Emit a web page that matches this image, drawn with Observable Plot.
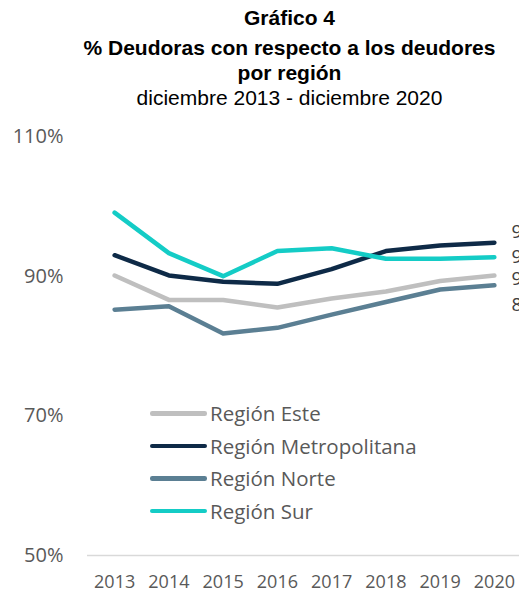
<!DOCTYPE html>
<html>
<head>
<meta charset="utf-8">
<script src="https://cdn.jsdelivr.net/npm/d3@7"></script>
<script src="https://cdn.jsdelivr.net/npm/@observablehq/plot@0.6"></script>
<style>
  html, body { margin: 0; padding: 0; background: #fff; overflow: hidden; }
  #wrap { position: relative; width: 519px; height: 592px; overflow: hidden; }
  #titles { height: 110px; padding-top: 5px; box-sizing: border-box; }
  .t { font-family: "Liberation Sans", Arial, sans-serif; font-size: 21px; line-height: 25px;
       text-align: center; padding-left: 60px; color: #000; white-space: nowrap; }
  .b { font-weight: bold; }
  #legend { position: absolute; left: 150px; top: 397px; font-family: "Open Sans", sans-serif;
            font-size: 20.5px; color: #595959; }
  .row { display: flex; align-items: center; height: 32.6px; }
  .sw { width: 57px; height: 4.5px; border-radius: 2.25px; margin-right: 3px; }
  #chart svg { display: block; }
</style>
</head>
<body>
<div id="wrap">
  <div id="titles">
    <div class="t b">Gráfico 4</div>
    <div class="t b" style="margin-top:5px">% Deudoras con respecto a los deudores</div>
    <div class="t b">por región</div>
    <div class="t">diciembre 2013 - diciembre 2020</div>
  </div>
  <div id="chart"></div>
  <div id="legend"></div>
</div>
<script>
const years = [2013, 2014, 2015, 2016, 2017, 2018, 2019, 2020];
const este  = [90.1, 86.6, 86.6, 85.5, 86.8, 87.8, 89.3, 90.1];
const metro = [93.0, 90.1, 89.2, 88.9, 91.0, 93.6, 94.4, 94.8];
const norte = [85.2, 85.7, 81.8, 82.6, 84.5, 86.3, 88.1, 88.7];
const sur   = [99.1, 93.3, 90.0, 93.6, 94.0, 92.5, 92.5, 92.7];
const seriesNames = ["Región Este", "Región Metropolitana", "Región Norte", "Región Sur"];
const seriesColors = ["#bfbfbf", "#0e2a47", "#5b7f93", "#14ccc6"];
const yTicks = [50, 70, 90, 110];

const seriesValues = [este, metro, norte, sur];
const rows = [];
seriesNames.forEach((name, i) => {
  years.forEach((yr, j) => rows.push({ series: name, year: yr, value: seriesValues[i][j] }));
});
const lastRows = seriesNames.map((name, i) => ({ series: name, year: years[years.length - 1], value: seriesValues[i][years.length - 1] }));
const labelDy = { "Región Este": 4, "Región Metropolitana": -11, "Región Norte": 20, "Región Sur": 0 };

const marks = [
  Plot.ruleY([50], { stroke: "#d9d9d9", strokeWidth: 1.5 }),
  ...seriesNames.map((name, i) =>
    Plot.lineY(rows.filter(d => d.series === name), {
      x: "year", y: "value", stroke: seriesColors[i], strokeWidth: 4.5,
      strokeLinecap: "round", strokeLinejoin: "round"
    })
  ),
  ...lastRows.map(d =>
    Plot.text([d], {
      x: "year", y: "value", text: r => Math.round(r.value) + "%",
      dx: 17, dy: labelDy[d.series], textAnchor: "start",
      fontSize: 18.5, fill: "#404040", fontFamily: "Open Sans"
    })
  )
];

const plot = Plot.plot({
  width: 519,
  height: 482,
  marginTop: 26,
  marginBottom: 37,
  marginLeft: 87,
  marginRight: -2,
  style: { fontFamily: "Open Sans", background: "transparent", overflow: "visible" },
  x: { type: "linear", domain: [2012.5, 2020.5] },
  y: { domain: [50, 110] },
  marks: [
    Plot.axisX(years, { tickSize: 0, tickPadding: 20, tickFormat: d => String(d), fontSize: 18, fill: "#595959", label: null }),
    Plot.axisY(yTicks, { tickSize: 0, tickPadding: 24, tickFormat: d => d + "%", fontSize: 20, fill: "#595959", label: null }),
    ...marks
  ]
});
document.getElementById("chart").appendChild(plot);

const legend = document.getElementById("legend");
seriesNames.forEach((name, i) => {
  const row = document.createElement("div");
  row.className = "row";
  const sw = document.createElement("div");
  sw.className = "sw";
  sw.style.background = seriesColors[i];
  const tx = document.createElement("span");
  tx.textContent = name;
  row.appendChild(sw);
  row.appendChild(tx);
  legend.appendChild(row);
});
</script>
</body>
</html>
